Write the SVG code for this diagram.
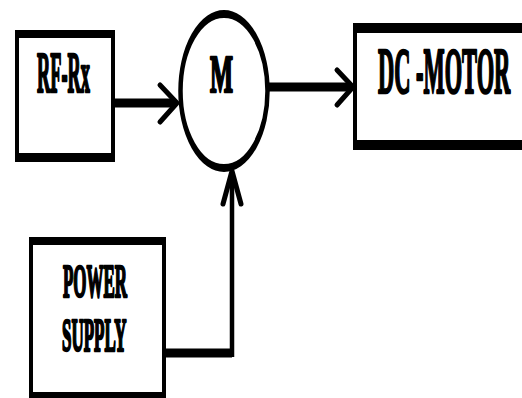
<svg xmlns="http://www.w3.org/2000/svg" width="522" height="398" viewBox="0 0 522 398">
<style>
.lbl{font-family:"Liberation Serif","Times New Roman",serif;font-weight:bold;fill:#000;stroke:#000;stroke-width:2.6;stroke-linejoin:round}
.box{fill:#000}
.inner{fill:#fff}
.stem{fill:none;stroke:#000}
.head{fill:none;stroke:#000;stroke-width:5;stroke-linecap:round;stroke-linejoin:round}
</style>
<rect width="522" height="398" fill="#fff"/>
<g id="rf-rx">
<rect class="box" x="15" y="30" width="100" height="132"/>
<rect class="inner" x="19" y="38" width="92" height="115"/>
<text class="lbl" transform="translate(37,92) scale(0.316,1)" font-size="58">RF-Rx</text>
</g>
<g id="motor-m">
<g transform="translate(224,91) scale(1,1.77)">
<circle r="43.5" fill="#fff" stroke="#000" stroke-width="4.5"/>
</g>
<text class="lbl" transform="translate(210,92) scale(0.469,1)" font-size="52">M</text>
</g>
<g id="dc-motor">
<rect class="box" x="353" y="23" width="180" height="127"/>
<rect class="inner" x="357" y="33" width="176" height="107"/>
<text class="lbl" transform="translate(378,93) scale(0.34,1)" font-size="66">DC -MOTOR</text>
</g>
<g id="power-supply">
<rect class="box" x="29" y="237" width="137" height="170"/>
<rect class="inner" x="33" y="245" width="129" height="147"/>
<text class="lbl" transform="translate(63,297) scale(0.368,1)" font-size="46">POWER</text>
<text class="lbl" transform="translate(62,351) scale(0.369,1)" font-size="46">SUPPLY</text>
</g>
<g id="connectors">
<path class="stem" d="M113 103 H175" stroke-width="9"/>
<polyline class="head" points="160,85 177,103 160,122"/>
<path class="stem" d="M267 87 H351" stroke-width="9"/>
<polyline class="head" points="337,70 353,87 337,105"/>
<path class="stem" d="M166 353 H232" stroke-width="9"/>
<path class="stem" d="M232 357 V173" stroke-width="4.5"/>
<polyline class="head" points="223,204 232,171 241,204" stroke-width="4"/>
</g>
</svg>
